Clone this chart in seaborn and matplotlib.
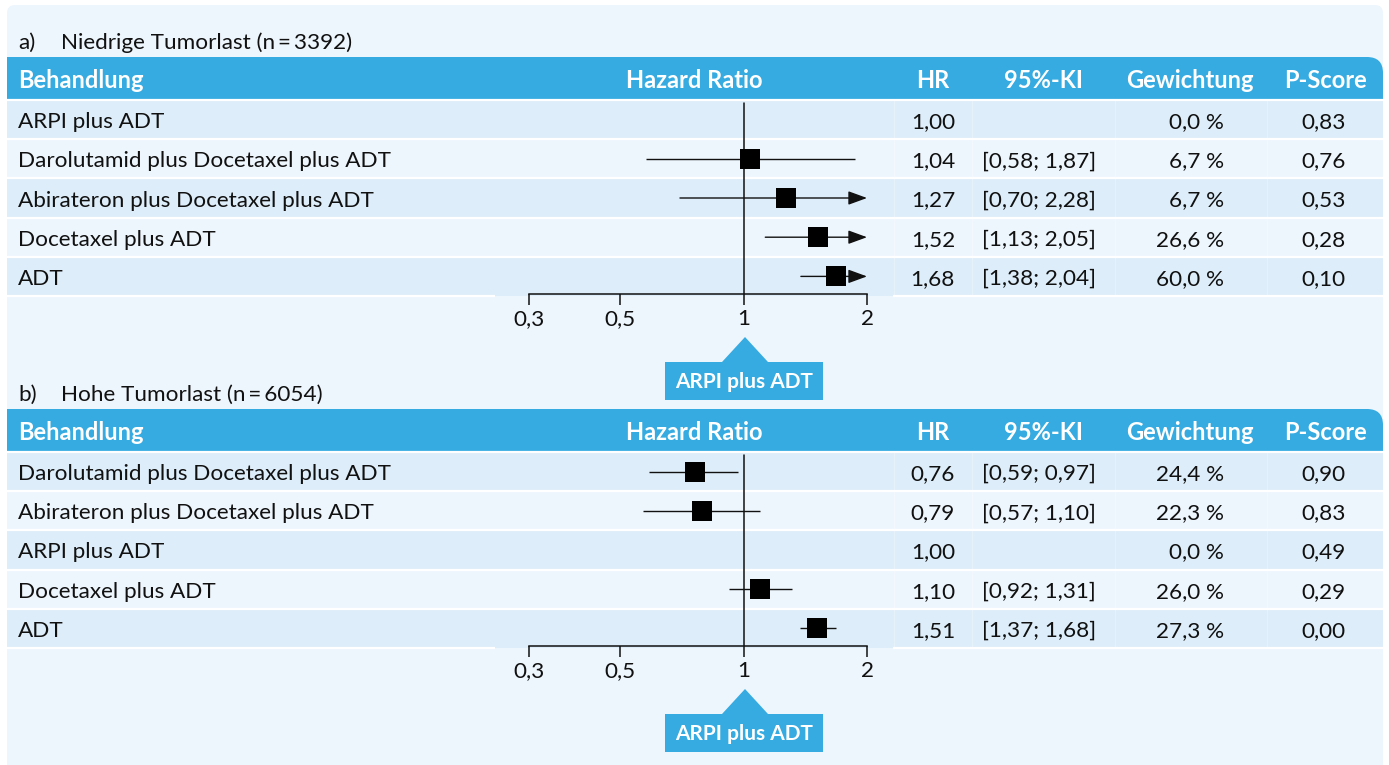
import numpy as np
import pandas as pd
import matplotlib
matplotlib.use("Agg")
import matplotlib.pyplot as plt
from matplotlib.patches import Rectangle, FancyBboxPatch, Polygon
from matplotlib.ticker import NullLocator, FixedLocator, FixedFormatter
import seaborn as sns

# ---------------------------------------------------------------- data
low_labels = ["ARPI plus ADT", "Darolutamid plus Docetaxel plus ADT",
              "Abirateron plus Docetaxel plus ADT", "Docetaxel plus ADT", "ADT"]
low_hr = [1.00, 1.04, 1.27, 1.52, 1.68]
low_ci_lower = [np.nan, 0.58, 0.70, 1.13, 1.38]
low_ci_upper = [np.nan, 1.87, 2.28, 2.05, 2.04]
low_weight = [0.0, 6.7, 6.7, 26.6, 60.0]
low_pscore = [0.83, 0.76, 0.53, 0.28, 0.10]

high_labels = ["Darolutamid plus Docetaxel plus ADT",
               "Abirateron plus Docetaxel plus ADT", "ARPI plus ADT",
               "Docetaxel plus ADT", "ADT"]
high_hr = [0.76, 0.79, 1.00, 1.10, 1.51]
high_ci_lower = [0.59, 0.57, np.nan, 0.92, 1.37]
high_ci_upper = [0.97, 1.10, np.nan, 1.31, 1.68]
high_weight = [24.4, 22.3, 0.0, 26.0, 27.3]
high_pscore = [0.90, 0.83, 0.49, 0.29, 0.00]

panel_letters = ["a)", "b)"]
panel_titles = ["Niedrige Tumorlast (n\u2009=\u20093392)",
                "Hohe Tumorlast (n\u2009=\u20096054)"]
column_titles = ["Behandlung", "Hazard Ratio", "HR", "95%-KI",
                 "Gewichtung", "P-Score"]
axis_ticks = [0.3, 0.5, 1, 2]
axis_tick_labels = ["0,3", "0,5", "1", "2"]
reference_label = "ARPI plus ADT"

# ---------------------------------------------------------------- style
sns.set_style("white")
plt.rcParams["font.family"] = ["Lato", "DejaVu Sans"]

BLUE = "#35abe1"
BG = "#eef6fd"
STRIPE = "#ddedf9"
INK = "#111111"
FS = 16.2
FS_HEAD = 17.0
FS_CALLOUT = 15.0

W, H = 1389, 765
fig = plt.figure(figsize=(W / 100, H / 100), dpi=100)
fig.patch.set_facecolor("white")

bg = fig.add_axes([0, 0, 1, 1])
bg.set_xlim(0, W)
bg.set_ylim(H, 0)
bg.axis("off")

bg.add_patch(FancyBboxPatch((7, 5), 1376, 770, boxstyle="round,pad=0,rounding_size=8",
                            fc=BG, ec="none", zorder=0))

LEFT, RIGHT = 7, 1383
ROW_TOP, ROW_H = 100, 39.2
AX_BOTTOM = 294


def fmt(v, d=2):
    return f"{v:.{d}f}".replace(".", ",")


def draw_panel(y0, letter, title, labels, hr, lo, hi, wt, ps):
    n = len(labels)
    # title line
    bg.text(18, y0 + 43, letter, fontsize=FS, color=INK, va="center")
    bg.text(61, y0 + 43, title, fontsize=FS, color=INK, va="center")

    # header bar, rounded only in the upper right corner
    htop, hbot = y0 + 57, y0 + 99
    r = 16
    bg.add_patch(FancyBboxPatch((LEFT, htop), RIGHT - LEFT, hbot - htop,
                                boxstyle=f"round,pad=0,rounding_size={r}",
                                fc=BLUE, ec="none", zorder=1))
    bg.add_patch(Rectangle((LEFT, htop), RIGHT - LEFT - r, hbot - htop,
                           fc=BLUE, ec="none", zorder=1))
    bg.add_patch(Rectangle((LEFT, htop + r), RIGHT - LEFT, hbot - htop - r,
                           fc=BLUE, ec="none", zorder=1))
    hy = y0 + 80
    hkw = dict(fontsize=FS_HEAD, color="white", fontweight="bold", va="center", zorder=3)
    bg.text(18, hy, column_titles[0], ha="left", **hkw)
    bg.text(694, hy, column_titles[1], ha="center", **hkw)
    bg.text(933, hy, column_titles[2], ha="center", **hkw)
    bg.text(1043, hy, column_titles[3], ha="center", **hkw)
    bg.text(1190, hy, column_titles[4], ha="center", **hkw)
    bg.text(1325, hy, column_titles[5], ha="center", **hkw)

    # row stripes and separators
    top = y0 + ROW_TOP
    for i in range(n):
        if i % 2 == 0:
            bg.add_patch(Rectangle((LEFT, top + i * ROW_H), RIGHT - LEFT, ROW_H,
                                   fc=STRIPE, ec="none", zorder=1))
    for i in range(n):
        bg.plot([LEFT, RIGHT], [top + i * ROW_H] * 2, color="white", lw=1.6,
                zorder=2, solid_capstyle="butt")
    yb = top + n * ROW_H
    bg.plot([LEFT, 495], [yb, yb], color="white", lw=1.6, zorder=2, solid_capstyle="butt")
    bg.plot([893, RIGHT], [yb, yb], color="white", lw=1.6, zorder=2, solid_capstyle="butt")
    for xv in (894, 972, 1115, 1267):
        bg.plot([xv, xv], [top, yb], color="white", lw=0.7, alpha=0.3, zorder=2)

    # table columns
    for i in range(n):
        cy = top + (i + 0.5) * ROW_H + 2.5
        kw = dict(fontsize=FS, color=INK, va="center", zorder=3)
        bg.text(18, cy, labels[i], ha="left", **kw)
        bg.text(955, cy, fmt(hr[i]), ha="right", **kw)
        if not np.isnan(lo[i]):
            bg.text(982, cy, f"[{fmt(lo[i])}; {fmt(hi[i])}]", ha="left", **kw)
        bg.text(1224, cy, f"{fmt(wt[i], 1)} %", ha="right", **kw)
        bg.text(1346, cy, fmt(ps[i]), ha="right", **kw)

    # forest plot on a log axis
    ax = fig.add_axes([529 / W, 1 - (y0 + AX_BOTTOM) / H, (867 - 529) / W,
                       (AX_BOTTOM - ROW_TOP) / H])
    ax.patch.set_alpha(0)
    ax.set_xscale("log")
    ax.set_xlim(axis_ticks[0], axis_ticks[-1])
    ax.set_ylim(-0.5 + (AX_BOTTOM - ROW_TOP) / ROW_H, -0.5)
    for s in ("top", "left", "right"):
        ax.spines[s].set_visible(False)
    ax.spines["bottom"].set_linewidth(1.1)
    ax.spines["bottom"].set_color(INK)
    ax.axvline(1, ymin=0, ymax=1 - 3 / (AX_BOTTOM - ROW_TOP), color=INK, lw=1.1, zorder=2)

    df = pd.DataFrame({"row": np.arange(n), "hr": hr, "lo": lo, "hi": hi})
    est = df.dropna()
    xmax = axis_ticks[-1]
    for _, rw in est.iterrows():
        if rw.hi > xmax:
            ax.annotate("", xy=(xmax, rw.row), xytext=(rw.lo, rw.row),
                        arrowprops=dict(arrowstyle="-|>,head_length=1.15,head_width=0.42",
                                        mutation_scale=10, color=INK, lw=1.0,
                                        shrinkA=0, shrinkB=0),
                        annotation_clip=False, zorder=3)
        else:
            ax.hlines(rw.row, rw.lo, rw.hi, color=INK, lw=1.0, zorder=3)
    sns.scatterplot(data=est, x="hr", y="row", marker="s", s=190, color="black",
                    linewidth=0, legend=False, ax=ax, zorder=4, clip_on=False)

    ax.set_xlim(axis_ticks[0], axis_ticks[-1])
    ax.set_ylim(-0.5 + (AX_BOTTOM - ROW_TOP) / ROW_H, -0.5)
    ax.xaxis.set_major_locator(FixedLocator(axis_ticks))
    ax.xaxis.set_major_formatter(FixedFormatter(axis_tick_labels))
    ax.xaxis.set_minor_locator(NullLocator())
    ax.tick_params(axis="x", direction="out", length=8, width=1.1, color=INK,
                   labelsize=FS, labelcolor=INK, pad=3, bottom=True)
    ax.set_xlabel("")
    ax.set_ylabel("")
    ax.set_yticks([])

    # reference callout below the axis
    apex = y0 + 337
    base = y0 + 362
    bg.add_patch(Polygon([(745, apex), (722, base), (768, base)], closed=True,
                         fc=BLUE, ec="none", zorder=2))
    bg.add_patch(Rectangle((665, base), 158, 38, fc=BLUE, ec="none", zorder=2))
    bg.text(744, base + 19.5, reference_label, fontsize=FS_CALLOUT, fontweight="bold",
            color="white", ha="center", va="center", zorder=3)


draw_panel(0, panel_letters[0], panel_titles[0], low_labels, low_hr,
           low_ci_lower, low_ci_upper, low_weight, low_pscore)
draw_panel(352, panel_letters[1], panel_titles[1], high_labels, high_hr,
           high_ci_lower, high_ci_upper, high_weight, high_pscore)

fig.savefig("out.png", dpi=100, facecolor="white")
